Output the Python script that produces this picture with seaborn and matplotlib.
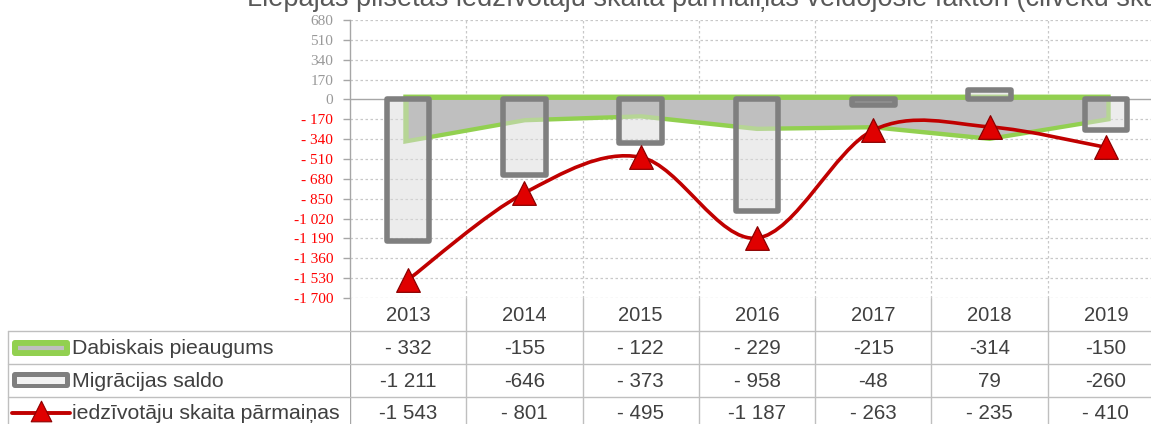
import numpy as np
import pandas as pd
import matplotlib
matplotlib.use("Agg")
import matplotlib.pyplot as plt
import seaborn as sns
from matplotlib.path import Path
from matplotlib.patches import PathPatch, FancyBboxPatch

# data
years = ["2013", "2014", "2015", "2016", "2017", "2018", "2019"]
dabiskais = [-332, -155, -122, -229, -215, -314, -150]
migracija = [-1211, -646, -373, -958, -48, 79, -260]
parmainas = [-1543, -801, -495, -1187, -263, -235, -410]

# table texts as printed under the chart
dabiskais_txt = ["- 332", "-155", "- 122", "- 229", "-215", "-314", "-150"]
migracija_txt = ["-1 211", "-646", "- 373", "- 958", "-48", "79", "-260"]
parmainas_txt = ["-1 543", "- 801", "- 495", "-1 187", "- 263", "- 235", "- 410"]
row_labels = ["Dabiskais pieaugums", "Migrācijas saldo", "iedzīvotāju skaita pārmaiņas"]

title = "Liepājas pilsētas iedzīvotāju skaita pārmaiņas veidojošie faktori (cilvēku skaits)"

GREEN = "#92D050"
BAR_EDGE = "#7F7F7F"
AREA = "#BFBFBF"
RED = "#C00000"
GRID = "#C8C8C8"
TXT = "#404040"

sns.set_style("white")
plt.rcParams["font.family"] = ["Liberation Sans", "DejaVu Sans"]

W, H = 1151, 424
fig = plt.figure(figsize=(W / 100, H / 100), dpi=100)

# main plot area
ax = fig.add_axes([350 / W, 1 - 298 / H, 814 / W, 278 / H])
x = np.arange(len(years))
df = pd.DataFrame({"year": years, "migr": migracija})

# green outline of the area (inner half gets covered by the grey fill)
outline = ax.fill_between(x, dabiskais, 0, facecolor="none", edgecolor=GREEN,
                          linewidth=7.0, zorder=1)
outline.set_joinstyle("miter")

# bar faces, semi-transparent
sns.barplot(data=df, x="year", y="migr", color="#D8D8D8", width=0.365,
            errorbar=None, ax=ax)
for p in ax.patches:
    p.set_facecolor((0.86, 0.86, 0.86, 0.5))
    p.set_edgecolor("none")
    p.set_linewidth(0)
    p.set_zorder(2)
n_face = len(ax.patches)

# grey area fill
ax.fill_between(x, dabiskais, 0, color=AREA, linewidth=0, zorder=3)

# bar outlines
sns.barplot(data=df, x="year", y="migr", color="#D8D8D8", width=0.365,
            errorbar=None, ax=ax)
for p in ax.patches[n_face:]:
    p.set_facecolor("none")
    p.set_edgecolor(BAR_EDGE)
    p.set_linewidth(4.0)
    p.set_joinstyle("round")
    p.set_zorder(4)

# smooth red line (Bezier through the points, like Excel smoothing)
pts = np.column_stack([x, parmainas]).astype(float)
verts = [pts[0]]
codes = [Path.MOVETO]
for i in range(len(pts) - 1):
    p0 = pts[i - 1] if i > 0 else pts[i]
    p1, p2 = pts[i], pts[i + 1]
    p3 = pts[i + 2] if i + 2 < len(pts) else pts[i + 1]
    verts += [p1 + (p2 - p0) / 6, p2 - (p3 - p1) / 6, p2]
    codes += [Path.CURVE4] * 3
ax.add_patch(PathPatch(Path(verts, codes), fill=False, edgecolor=RED,
                       linewidth=2.6, capstyle="round", zorder=5))
sns.scatterplot(x=x, y=parmainas, marker="^", s=290, color="#E00000",
                edgecolor="#8B0000", linewidth=0.9, zorder=6, ax=ax, legend=False)

# axes styling
ax.set_xlim(-0.5, 6.5)
ax.set_ylim(-1700, 680)
ax.set_xticks([])
ax.set_xlabel("")
ax.set_ylabel("")
yt = list(range(-1700, 681, 170))


def fmt(v):
    if v < 0:
        s = f"{-v:,}".replace(",", " ")
        return "-" + s if -v >= 1000 else "- " + s
    return f"{v}"


ax.set_yticks(yt)
ax.set_yticklabels([fmt(v) for v in yt], family="Liberation Serif", fontsize=11)
for lab, v in zip(ax.get_yticklabels(), yt):
    lab.set_color("#FF0000" if v < 0 else "#999999")
ax.tick_params(axis="y", left=True, length=5, width=1, color="#A6A6A6", pad=7)
for v in yt:
    if v != 0:
        ax.axhline(v, color=GRID, linewidth=0.9, linestyle=(0, (2, 2)), zorder=0)
ax.axhline(0, color="#A6A6A6", linewidth=1, zorder=0.5)
for b in np.arange(0.5, 6, 1):
    ax.axvline(b, color=GRID, linewidth=0.9, linestyle=(0, (2, 2)), zorder=0)
for s in ["top", "right", "bottom"]:
    ax.spines[s].set_visible(False)
ax.spines["left"].set_color("#A6A6A6")
ax.spines["left"].set_linewidth(1)

# title, cut by the top edge like in the reference
fig.text(247 / W, 1 - 6 / H, title, fontsize=19.5, color="#595959",
         ha="left", va="baseline")

# data table under the chart
LINE = "#BFBFBF"
tax = fig.add_axes([350 / W, 0, 814 / W, 126 / H])
tax.set_xlim(-0.5, 6.5)
tax.set_ylim(424, 298)
tax.axis("off")
for b in np.arange(-0.5, 6, 1):
    tax.plot([b, b], [298, 424], color=LINE if b > 0 else "#A6A6A6", lw=1)
for yy in [331, 364, 397]:
    tax.plot([-0.5, 6.5], [yy, yy], color=LINE, lw=1)
rows_y = [315, 348, 381, 413]
for i, yr in enumerate(years):
    tax.text(i, rows_y[0], yr, ha="center", va="center", fontsize=14.5, color=TXT)
    for j, vals in enumerate([dabiskais_txt, migracija_txt, parmainas_txt]):
        tax.text(i, rows_y[j + 1], vals[i], ha="center", va="center",
                 fontsize=14.8, color=TXT)

lax = fig.add_axes([0, 0, 350 / W, 126 / H])
lax.set_xlim(0, 350)
lax.set_ylim(424, 298)
lax.axis("off")
lax.plot([8, 8], [331, 424], color=LINE, lw=1)
for yy in [331, 364, 397]:
    lax.plot([8, 350], [yy, yy], color=LINE, lw=1)
for j, lab in enumerate(row_labels):
    lax.text(72, rows_y[j + 1], lab, ha="left", va="center", fontsize=15.3, color=TXT)

# legend keys
lax.add_patch(FancyBboxPatch((12, 340), 58, 16, boxstyle="round,pad=0,rounding_size=3",
                             facecolor=GREEN, edgecolor="none"))
lax.plot([18, 64], [348, 348], color="#BFBFBF", lw=3, solid_capstyle="butt")
lax.add_patch(FancyBboxPatch((12, 372), 58, 16, boxstyle="round,pad=0,rounding_size=3",
                             facecolor=BAR_EDGE, edgecolor="none"))
lax.add_patch(FancyBboxPatch((17, 376.5), 48, 7, boxstyle="square,pad=0",
                             facecolor="#F2F2F2", edgecolor="none"))
lax.plot([12, 70], [413, 413], color=RED, lw=2.8)
lax.scatter([41], [411], marker="^", s=220, color="#E00000", edgecolor="#8B0000",
            linewidth=0.8, zorder=3)

fig.savefig("out.png", dpi=100)
